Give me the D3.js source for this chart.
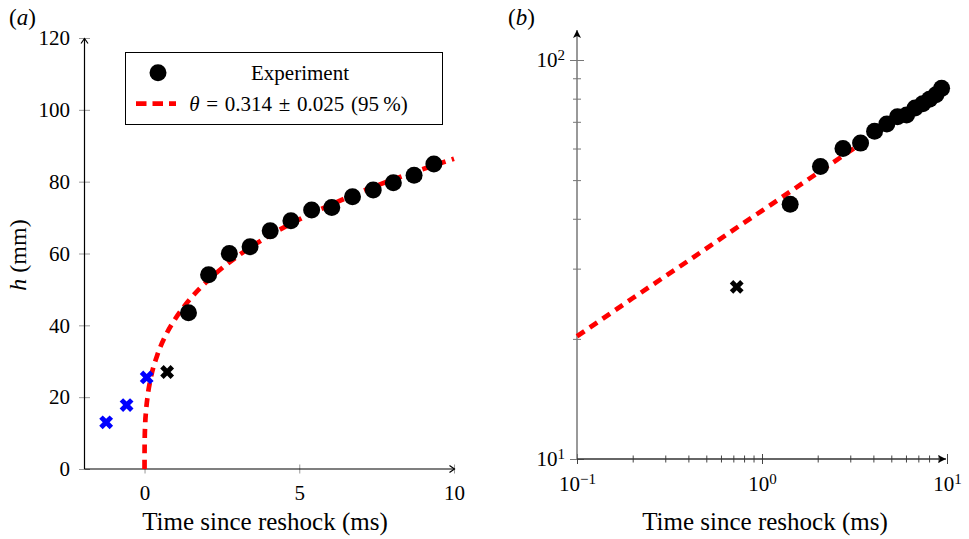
<!DOCTYPE html>
<html>
<head>
<meta charset="utf-8">
<script src="https://cdn.jsdelivr.net/npm/d3@7"></script>
<style>
  body { margin: 0; background: #fff; }
  text { font-family: "Liberation Serif", "Times New Roman", serif; fill: #000; }
</style>
</head>
<body>
<script>
// experiment (circles): time since reshock (ms) and mixing width h (mm)
const expT = [1.42, 2.07, 2.74, 3.41, 4.06, 4.73, 5.40, 6.05, 6.72, 7.39, 8.04, 8.71, 9.35];
const expH = [43.5, 54.1, 60.0, 61.9, 66.3, 69.1, 72.1, 72.8, 75.8, 77.7, 79.7, 81.8, 84.9];
// excluded points (crosses)
const blueT = [-1.24, -0.58, 0.07];
const blueH = [13.0, 17.8, 25.5];
const blackT = [0.73];
const blackH = [27.0];
// power-law fit
const fitT = [0, 0.001, 0.005, 0.02, 0.05, 0.1, 0.2, 0.4, 0.7, 1, 1.5, 2, 3, 4, 5, 6, 7, 8, 9, 10];
const fitH = [0, 4.8, 7.9, 12.3, 16.3, 20.3, 25.3, 31.4, 37.5, 41.9, 47.6, 52.1, 59.2, 64.8, 69.5, 73.5, 77.2, 80.5, 83.5, 86.4];
// ticks
const xTicksA = [0, 5, 10];
const yTicksA = [0, 20, 40, 60, 80, 100, 120];
const xTicksB = [0.1, 0.2, 0.3, 0.4, 0.5, 0.6, 0.7, 0.8, 0.9, 1, 2, 3, 4, 5, 6, 7, 8, 9, 10];
const yTicksB = [10, 20, 30, 40, 50, 60, 70, 80, 90, 100];
const xLabel = 'Time since reshock (ms)';
const legendExp = 'Experiment';

const W = 969, H = 539;
const svg = d3.select('body').append('svg').attr('width', W).attr('height', H);

const exp = expT.map((t, i) => ({t: t, h: expH[i]}));
const blue = blueT.map((t, i) => ({t: t, h: blueH[i]}));
const black = blackT.map((t, i) => ({t: t, h: blackH[i]}));
const fit = fitT.map((t, i) => ({t: t, h: fitH[i]}));

// arrow heads
const defs = svg.append('defs');
defs.append('marker').attr('id', 'arrA').attr('viewBox', '-6 -5 8 10')
  .attr('markerWidth', 8).attr('markerHeight', 10).attr('refX', 0).attr('refY', 0)
  .attr('orient', 'auto').attr('markerUnits', 'userSpaceOnUse')
  .append('path').attr('d', 'M-5,-3.5 L0,0 L-5,3.5').attr('fill', 'none').attr('stroke', '#000').attr('stroke-width', 1.2);
defs.append('marker').attr('id', 'arrB').attr('viewBox', '-9 -5 10 10')
  .attr('markerWidth', 10).attr('markerHeight', 10).attr('refX', 0).attr('refY', 0)
  .attr('orient', 'auto').attr('markerUnits', 'userSpaceOnUse')
  .append('path').attr('d', 'M-8,-4 L0,0 L-8,4 L-6,0 Z').attr('fill', '#000');

const cross = d3.symbol().type(d3.symbolCross).size(120);
const red = '#ff0000';

// ---------------- panel (a) ----------------
const xA = d3.scaleLinear().domain([-1.94, 10]).range([84.5, 454]);
const yA = d3.scaleLinear().domain([0, 120]).range([469, 38]);

const yAxA = svg.append('g').attr('transform', `translate(${xA.range()[0]},0)`)
  .call(d3.axisLeft(yA).tickValues(yTicksA).tickSize(5.5).tickPadding(9));
yAxA.select('.domain').remove();
yAxA.selectAll('.tick line').attr('stroke', '#999').attr('x1', 5.5);
yAxA.selectAll('.tick text').attr('font-size', '21px').attr('font-family', null);

const xAxA = svg.append('g').attr('transform', `translate(0,${yA(0)})`)
  .call(d3.axisBottom(xA).tickValues(xTicksA).tickSize(4.5).tickPadding(12));
xAxA.select('.domain').remove();
xAxA.selectAll('.tick line').attr('stroke', '#999').attr('y1', -4.5);
xAxA.selectAll('.tick text').attr('font-size', '21px').attr('font-family', null);

svg.append('line').attr('x1', xA.range()[0]).attr('x2', xA.range()[0])
  .attr('y1', yA(0)).attr('y2', yA(120) + 0.5).attr('stroke', '#000').attr('stroke-width', 1.2)
  .attr('marker-end', 'url(#arrA)');
svg.append('line').attr('x1', xA.range()[0]).attr('x2', xA(10) + 0.5)
  .attr('y1', yA(0)).attr('y2', yA(0)).attr('stroke', '#000').attr('stroke-width', 1.2)
  .attr('marker-end', 'url(#arrA)');

const lineA = d3.line().x(d => xA(d.t)).y(d => yA(d.h)).curve(d3.curveMonotoneX);
svg.append('path').datum(fit).attr('d', lineA).attr('fill', 'none')
  .attr('stroke', red).attr('stroke-width', 4.7).attr('stroke-dasharray', '9,6.5');

svg.append('g').selectAll('circle').data(exp).enter().append('circle')
  .attr('cx', d => xA(d.t)).attr('cy', d => yA(d.h)).attr('r', 8.5).attr('fill', '#000');
svg.append('g').selectAll('path').data(blue).enter().append('path')
  .attr('d', cross).attr('fill', '#0000ff')
  .attr('transform', d => `translate(${xA(d.t)},${yA(d.h)}) rotate(45)`);
svg.append('g').selectAll('path').data(black).enter().append('path')
  .attr('d', cross).attr('fill', '#000')
  .attr('transform', d => `translate(${xA(d.t)},${yA(d.h)}) rotate(45)`);

// legend
const lg = svg.append('g');
lg.append('rect').attr('x', 125.5).attr('y', 52.5).attr('width', 317).attr('height', 72)
  .attr('fill', '#fff').attr('stroke', '#000').attr('stroke-width', 1);
lg.append('circle').attr('cx', 158).attr('cy', 72.7).attr('r', 8.5).attr('fill', '#000');
lg.append('text').attr('x', 300).attr('y', 79.5).attr('text-anchor', 'middle').attr('font-size', '21px').text(legendExp);
lg.append('line').attr('x1', 136).attr('x2', 176).attr('y1', 103.7).attr('y2', 103.7)
  .attr('stroke', red).attr('stroke-width', 4.7).attr('stroke-dasharray', '10.5,6');
const lt = lg.append('text').attr('x', 298.5).attr('y', 110.5).attr('text-anchor', 'middle')
  .attr('font-size', '21px').attr('word-spacing', '1.5px');
lt.append('tspan').attr('font-style', 'italic').text('θ');
lt.append('tspan').text(' = 0.314 ± 0.025 (95\u2009%)');

// labels
svg.append('text').attr('x', 265).attr('y', 530).attr('text-anchor', 'middle').attr('font-size', '25px').text(xLabel);
const yl = svg.append('text').attr('transform', 'translate(26,255) rotate(-90)').attr('text-anchor', 'middle').attr('font-size', '24px');
yl.append('tspan').attr('font-style', 'italic').text('h');
yl.append('tspan').text(' (mm)');
const pa = svg.append('text').attr('x', 9).attr('y', 25).attr('font-size', '23px');
pa.append('tspan').text('(');
pa.append('tspan').attr('font-style', 'italic').text('a');
pa.append('tspan').text(')');

// ---------------- panel (b) ----------------
const xB = d3.scaleLog().domain([0.1, 10]).range([577, 947]);
const yB = d3.scaleLog().domain([10, 100]).range([459, 60]);
const isMajor = d => Math.abs(Math.log10(d) - Math.round(Math.log10(d))) < 1e-9;

function powLabel(sel, d) {
  const e = Math.round(Math.log10(d));
  sel.text(null);
  sel.append('tspan').text('10');
  sel.append('tspan').attr('dy', '-0.48em').attr('font-size', '15px').text(e < 0 ? '\u2212' + (-e) : e);
}

const yAxB = svg.append('g').attr('transform', `translate(${xB.range()[0]},0)`)
  .call(d3.axisLeft(yB).tickValues(yTicksB).tickSize(7).tickPadding(5));
yAxB.select('.domain').remove();
yAxB.selectAll('.tick line').attr('stroke', '#777')
  .attr('x1', d => isMajor(d) ? 7 : 4).attr('x2', d => isMajor(d) ? -7 : -4);
yAxB.selectAll('.tick text').attr('font-size', '21px').attr('font-family', null)
  .each(function(d) { if (isMajor(d)) powLabel(d3.select(this), d); else d3.select(this).remove(); });

const xAxB = svg.append('g').attr('transform', `translate(0,${yB(10)})`)
  .call(d3.axisBottom(xB).tickValues(xTicksB).tickSize(5).tickPadding(12));
xAxB.select('.domain').remove();
xAxB.selectAll('.tick line').attr('stroke', '#444')
  .attr('y1', d => isMajor(d) ? -5 : -3.5).attr('y2', d => isMajor(d) ? 5 : 3.5);
xAxB.selectAll('.tick text').attr('font-size', '21px').attr('font-family', null)
  .each(function(d) { if (isMajor(d)) powLabel(d3.select(this), d); else d3.select(this).remove(); });

svg.append('line').attr('x1', xB.range()[0]).attr('x2', xB.range()[0])
  .attr('y1', yB(10)).attr('y2', yB(120) + 1.5).attr('stroke', '#777').attr('stroke-width', 1.5)
  .attr('marker-end', 'url(#arrB)');
svg.append('line').attr('x1', xB.range()[0]).attr('x2', xB(10) - 1)
  .attr('y1', yB(10)).attr('y2', yB(10)).attr('stroke', '#333').attr('stroke-width', 1.5)
  .attr('marker-end', 'url(#arrB)');

const lineB = d3.line().x(d => xB(d.t)).y(d => yB(d.h));
svg.append('path').datum(fit.filter(d => d.t >= 0.1)).attr('d', lineB).attr('fill', 'none')
  .attr('stroke', red).attr('stroke-width', 4.7).attr('stroke-dasharray', '9,6.5');

svg.append('g').selectAll('circle').data(exp).enter().append('circle')
  .attr('cx', d => xB(d.t)).attr('cy', d => yB(d.h)).attr('r', 8.5).attr('fill', '#000');
svg.append('g').selectAll('path').data(blue.concat(black).filter(d => d.t >= 0.1)).enter().append('path')
  .attr('d', cross).attr('fill', d => d.t === blackT[0] ? '#000' : '#0000ff')
  .attr('transform', d => `translate(${xB(d.t)},${yB(d.h)}) rotate(45)`);

svg.append('text').attr('x', 765).attr('y', 530).attr('text-anchor', 'middle').attr('font-size', '25px').text(xLabel);
const pb = svg.append('text').attr('x', 508).attr('y', 25).attr('font-size', '23px');
pb.append('tspan').text('(');
pb.append('tspan').attr('font-style', 'italic').text('b');
pb.append('tspan').text(')');
</script>
</body>
</html>
